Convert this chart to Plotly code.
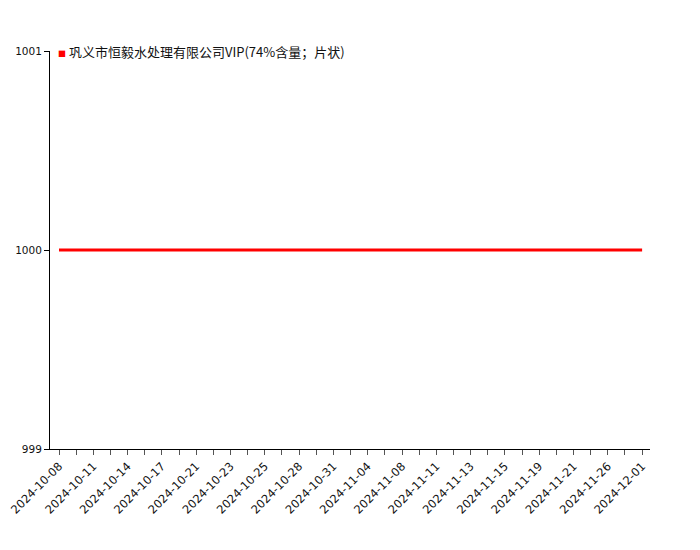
import plotly.graph_objects as go

# dates on the category axis (every other one is labelled)
dates = [
    "2024-10-08", "2024-10-09", "2024-10-11", "2024-10-12", "2024-10-14",
    "2024-10-16", "2024-10-17", "2024-10-18", "2024-10-21", "2024-10-22",
    "2024-10-23", "2024-10-24", "2024-10-25", "2024-10-26", "2024-10-28",
    "2024-10-30", "2024-10-31", "2024-11-01", "2024-11-04", "2024-11-06",
    "2024-11-08", "2024-11-09", "2024-11-11", "2024-11-12", "2024-11-13",
    "2024-11-14", "2024-11-15", "2024-11-18", "2024-11-19", "2024-11-20",
    "2024-11-21", "2024-11-25", "2024-11-26", "2024-11-28", "2024-12-01",
]
prices = [1000] * len(dates)
series_name = "巩义市恒毅水处理有限公司VIP(74%含量；片状)"
y_ticks = [999, 1000, 1001]

line_color = "#ff0000"
font = "Noto Sans CJK SC, sans-serif"
tick_font = "DejaVu Sans, sans-serif"

fig = go.Figure()
fig.add_trace(go.Scatter(
    x=dates, y=prices, name=series_name, mode="lines",
    line=dict(color=line_color, width=3), showlegend=False,
))

# legend drawn as a text item: small red square + series name
fig.add_annotation(
    xref="paper", yref="paper", x=0.01, y=1.0,
    xanchor="left", yanchor="middle", showarrow=False,
    text=f'<span style="font-size:8px;color:{line_color}">■</span> {series_name}',
    font=dict(family=font, size=13, color="#111"),
)

# page body adds 8px, so margins are shifted to match
fig.update_layout(
    width=700, height=550,
    margin=dict(l=42, r=58, t=43, b=109),
    plot_bgcolor="white", paper_bgcolor="white",
    font=dict(family=tick_font, size=12, color="#111"),
    showlegend=False,
)
fig.update_xaxes(
    type="category", range=[-0.525, len(dates) - 0.54], automargin=False,
    tickmode="array", tickvals=dates,
    ticktext=[d if i % 2 == 0 else "" for i, d in enumerate(dates)],
    tickangle=-45, ticks="outside", ticklen=5, tickcolor="#555",
    showline=True, linecolor="black", linewidth=1, showgrid=False,
    tickfont=dict(family=tick_font, size=11.5, color="#111"),
)
fig.update_yaxes(
    range=[999, 1001], tickvals=y_ticks, ticks="outside", ticklen=5,
    automargin=False, tickcolor="black", showline=True, linecolor="black",
    linewidth=1, showgrid=False, zeroline=False,
    tickfont=dict(family=tick_font, size=10.5, color="#111"),
)

fig.write_html("out.html")
